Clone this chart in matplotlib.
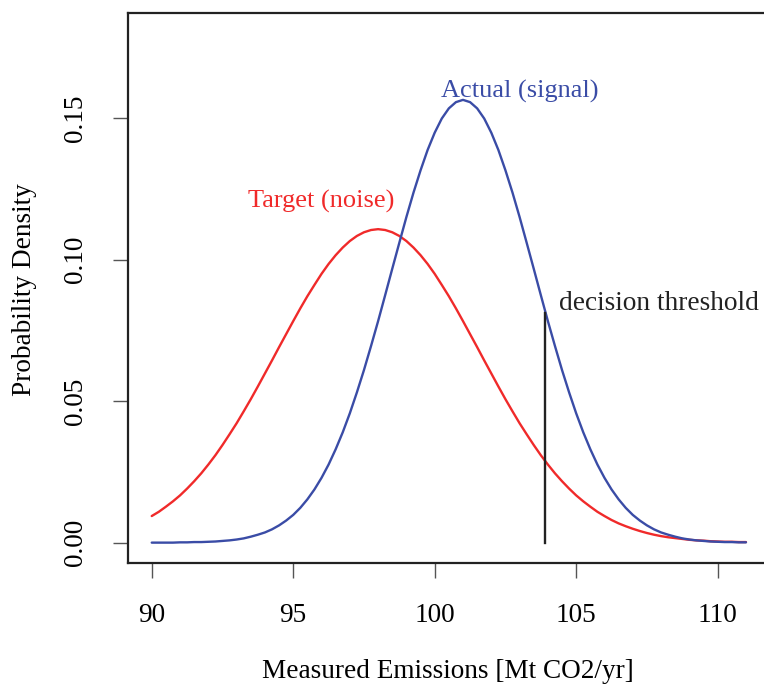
import numpy as np
import matplotlib.pyplot as plt

plt.rcParams['font.family'] = ['Liberation Serif', 'DejaVu Serif']

# values, every 0.25 Mt CO2/yr from 90 to 111
emissions = np.arange(90, 111.001, 0.25)
target_density = [
    0.0094, 0.0109, 0.0127, 0.0146, 0.0167, 0.0191, 0.0217, 0.0245, 0.0276, 0.0309,
    0.0345, 0.0383, 0.0422, 0.0464, 0.0507, 0.0552, 0.0598, 0.0644, 0.0691, 0.0737,
    0.0783, 0.0828, 0.0871, 0.0911, 0.0950, 0.0985, 0.1016, 0.1043, 0.1066, 0.1084,
    0.1097, 0.1105, 0.1108, 0.1105, 0.1097, 0.1084, 0.1066, 0.1043, 0.1016, 0.0985,
    0.0950, 0.0911, 0.0871, 0.0828, 0.0783, 0.0737, 0.0691, 0.0644, 0.0598, 0.0552,
    0.0507, 0.0464, 0.0422, 0.0383, 0.0345, 0.0309, 0.0276, 0.0245, 0.0217, 0.0191,
    0.0167, 0.0146, 0.0127, 0.0109, 0.0094, 0.0080, 0.0068, 0.0058, 0.0049, 0.0041,
    0.0034, 0.0028, 0.0023, 0.0019, 0.0016, 0.0013, 0.0010, 0.0008, 0.0007, 0.0005,
    0.0004, 0.0003, 0.0003, 0.0002, 0.0002,
]
actual_density = [
    0.0000, 0.0000, 0.0000, 0.0000, 0.0001, 0.0001, 0.0002, 0.0002, 0.0003, 0.0004,
    0.0006, 0.0008, 0.0011, 0.0015, 0.0021, 0.0028, 0.0036, 0.0047, 0.0061, 0.0078,
    0.0098, 0.0123, 0.0153, 0.0188, 0.0229, 0.0276, 0.0330, 0.0390, 0.0457, 0.0531,
    0.0610, 0.0695, 0.0783, 0.0875, 0.0968, 0.1060, 0.1151, 0.1237, 0.1316, 0.1388,
    0.1449, 0.1499, 0.1535, 0.1557, 0.1565, 0.1557, 0.1535, 0.1499, 0.1449, 0.1388,
    0.1316, 0.1237, 0.1151, 0.1060, 0.0968, 0.0875, 0.0783, 0.0695, 0.0610, 0.0531,
    0.0457, 0.0390, 0.0330, 0.0276, 0.0229, 0.0188, 0.0153, 0.0123, 0.0098, 0.0078,
    0.0061, 0.0047, 0.0036, 0.0028, 0.0021, 0.0015, 0.0011, 0.0008, 0.0006, 0.0004,
    0.0003, 0.0002, 0.0002, 0.0001, 0.0001,
]
threshold_x = 103.9
threshold_top = 0.081

xticks = [90, 95, 100, 105, 110]
yticks = [0.00, 0.05, 0.10, 0.15]

red = '#f02a2a'
blue = '#3a4ca6'
fs = 19.6

fig = plt.figure(figsize=(7.64, 6.85), dpi=100)
ax = fig.add_axes([0.1675, 0.1781, 0.84, 0.8029])

ax.plot(emissions, target_density, color=red, lw=1.7, solid_capstyle='round')
ax.plot(emissions, actual_density, color=blue, lw=1.7, solid_capstyle='round')
ax.plot([threshold_x, threshold_x], [0, threshold_top], color='#222222', lw=1.7)

ax.text(96, 0.1205, 'Target (noise)', color=red, fontsize=19, ha='center', va='center')
ax.text(103, 0.1595, 'Actual (signal)', color=blue, fontsize=19, ha='center', va='center')
ax.text(104.4, 0.0845, 'decision threshold', color='#222222', fontsize=19.7,
        ha='left', va='center')

# R style limits (4% padding)
ax.set_xlim(90 - 0.84, 111 + 0.84)
ax.set_ylim(-0.0072, 0.18 + 0.0072)

ax.set_xticks(xticks)
ax.set_xticklabels([str(t) for t in xticks], fontsize=fs)
ax.set_yticks(yticks)
ax.set_yticklabels([f'{t:.2f}' for t in yticks], fontsize=fs, rotation=90, va='center')
ax.tick_params(length=10.5, width=1.0, color='#555555', pad=18)

for s in ax.spines.values():
    s.set_linewidth(1.6)
    s.set_color('#222222')

fig.text(448 / 764, 1 - 672 / 685, 'Measured Emissions [Mt CO2/yr]', fontsize=fs,
         ha='center', va='center')
fig.text(25 / 764, 1 - 290 / 685, 'Probability Density', fontsize=fs,
         ha='center', va='center', rotation=90)

fig.savefig('out.png', dpi=100)
